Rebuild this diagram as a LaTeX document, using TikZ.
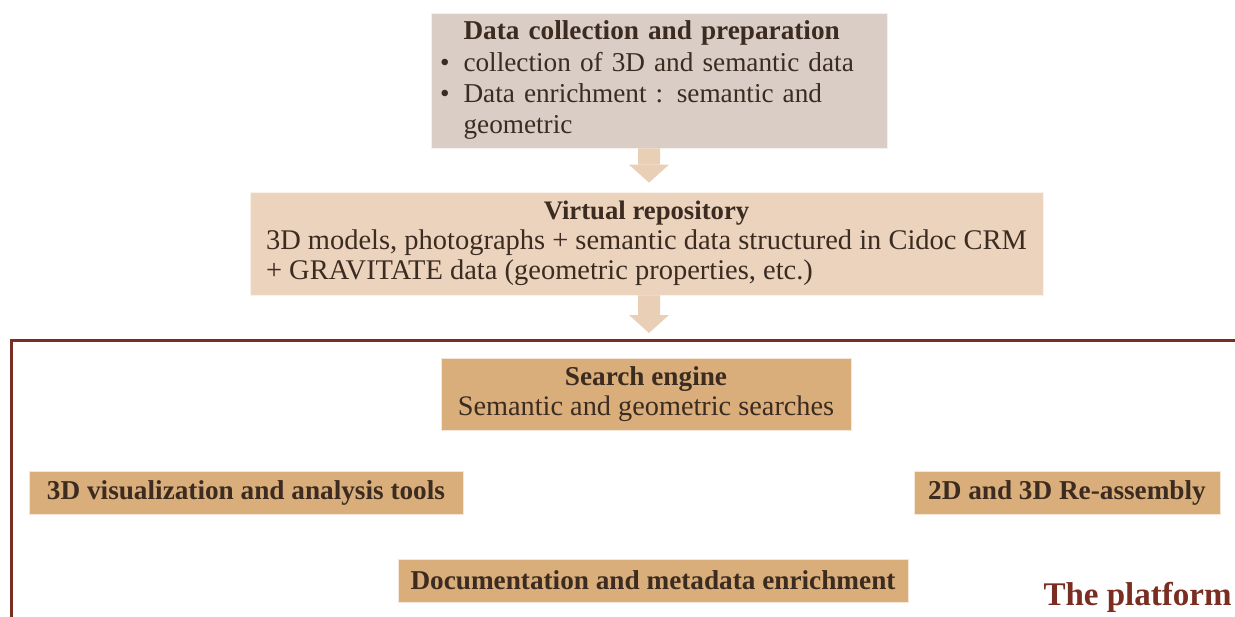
\documentclass[tikz,border=0pt]{standalone}
\usepackage{fontspec}
\setmainfont{Liberation Serif}
\usetikzlibrary{arrows.meta}
\definecolor{greybox}{HTML}{D9CDC5}
\definecolor{peachbox}{HTML}{EBD3BD}
\definecolor{tanbox}{HTML}{D9AE7B}
\definecolor{arrowpeach}{HTML}{E9CFB5}
\definecolor{textbrown}{HTML}{3B2B20}
\definecolor{framered}{HTML}{7A2E22}
\begin{document}
\begin{tikzpicture}[
    box/.style = {inner sep=0pt, text=textbrown, draw=white!70!#1, fill=#1,
                  font=\fontsize{15.5}{17.4}\selectfont},
    fatarrow/.style = {draw=arrowpeach, line width=0.44cm,
                  -{Triangle[width=0.8cm, length=0.36cm, line width=0pt]}}]
    \useasboundingbox (0,0) rectangle (24.7,-12.32);
    \node [box=greybox, minimum width=9.12cm, minimum height=2.7cm,
           text width=8.76cm, align=left, font=\fontsize{15.5}{17.8}\selectfont] (prep) at (13.18,-1.61)
        {\begin{tabular}{@{}l@{\hspace{0.28cm}}l@{}}
            & \textbf{Data collection and preparation}\\
            \textbullet & collection of 3D and semantic data\\
            \textbullet & Data enrichment : semantic and\\
            & geometric
        \end{tabular}};
    \node [box=peachbox, minimum width=15.86cm, minimum height=2.06cm,
           font=\fontsize{16.2}{17.2}\selectfont] (repo) at (12.93,-4.87)
        {\begin{tabular}{@{}l@{}}
            \multicolumn{1}{c}{\fontsize{15.2}{17.2}\selectfont\textbf{Virtual repository}}\\
            3D models, photographs + semantic data structured in Cidoc CRM\\
            + GRAVITATE data (geometric properties, etc.)
        \end{tabular}};
    \coordinate (frametop) at (12.98,-6.8);
    \draw [fatarrow, shorten >=0.18cm] ([xshift=-0.2cm]prep.south) -- ([xshift=0.05cm]repo.north);
    \draw [fatarrow, shorten >=0.14cm] ([xshift=0.05cm]repo.south) -- (frametop);
    \draw [framered, line width=0.06cm] (0.22,-12.5) -- (0.22,-6.8) -- (24.9,-6.8);
    \node [box=tanbox, minimum width=8.2cm, minimum height=1.44cm, align=center] (search) at (12.92,-7.88)
        {\textbf{Search engine}\\ {\fontsize{16.1}{17.4}\selectfont Semantic and geometric searches}};
    \node [box=tanbox, minimum width=8.68cm, minimum height=0.86cm] (visu) at (4.92,-9.85)
        {\textbf{3D visualization and analysis tools}};
    \node [box=tanbox, minimum width=6.12cm, minimum height=0.86cm] (reasm) at (21.34,-9.85)
        {\textbf{2D and 3D Re-assembly}};
    \node [box=tanbox, minimum width=10.2cm, minimum height=0.86cm] (docu) at (13.06,-11.61)
        {\textbf{Documentation and metadata enrichment}};
    \node [anchor=base east, text=framered, inner sep=0pt,
           font=\fontsize{18.8}{22}\selectfont\bfseries] (platform) at (24.64,-12.1) {The platform};
\end{tikzpicture}
\end{document}
